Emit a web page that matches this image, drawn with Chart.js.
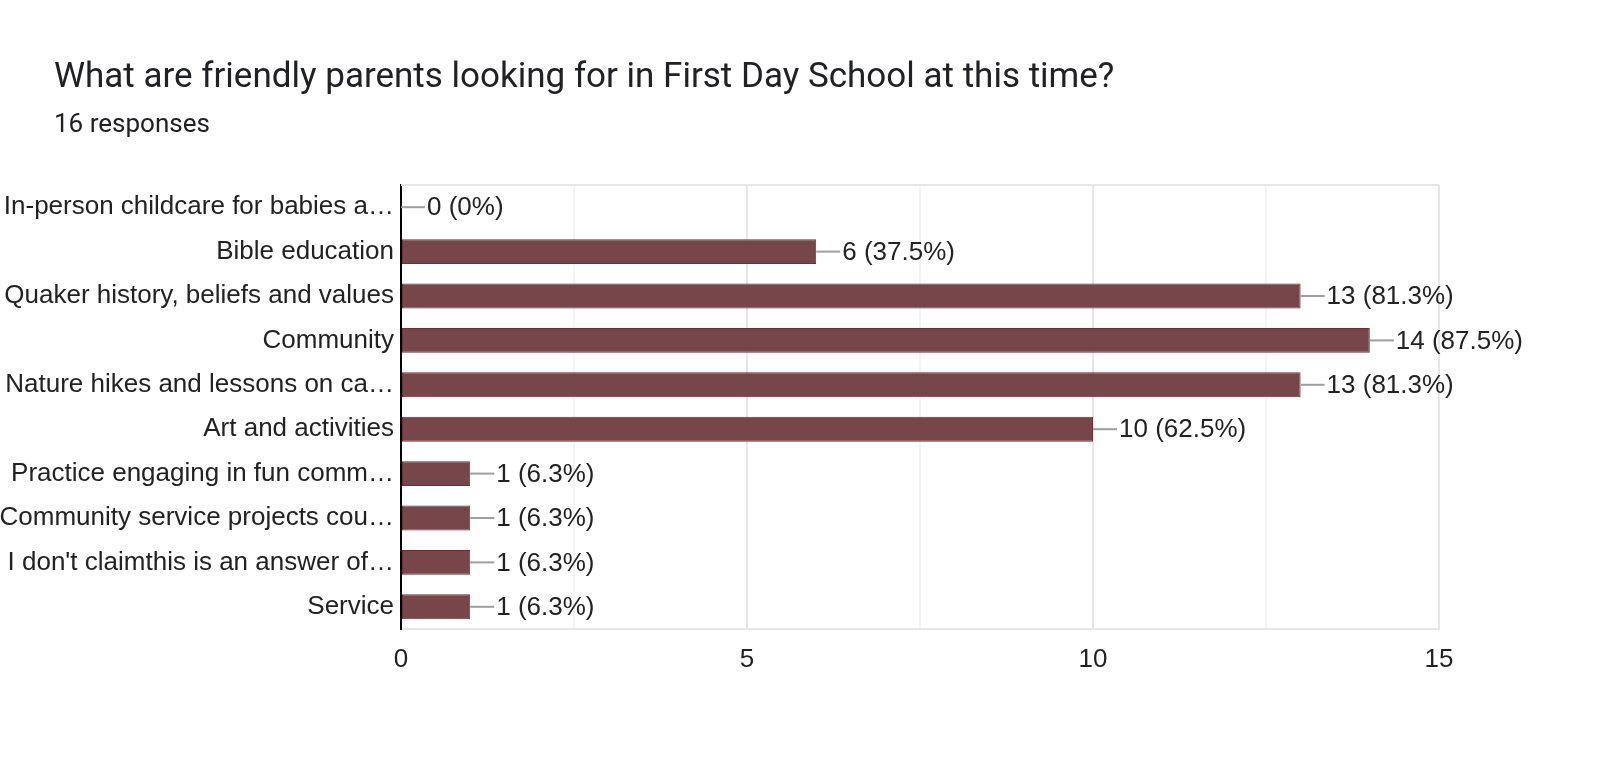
<!DOCTYPE html>
<html>
<head>
<meta charset="utf-8">
<script src="https://cdn.jsdelivr.net/npm/chart.js@4.4.1/dist/chart.umd.min.js"></script>
<style>
  body { margin: 0; background: #fff; }
  #wrap { position: relative; width: 1600px; height: 761px; }
  #title { position: absolute; left: 54px; top: 56px; font: 35px Roboto, "Open Sans", sans-serif; line-height: 40px; color: #202124; white-space: nowrap; }
  #subtitle { position: absolute; left: 54px; top: 108px; font: 26px Roboto, "Open Sans", sans-serif; line-height: 30px; color: #202124; white-space: nowrap; }
  canvas { position: absolute; left: 0; top: 0; }
</style>
</head>
<body>
<div id="wrap">
  <canvas id="surveyChart" width="1600" height="761"></canvas>
  <div id="title">What are friendly parents looking for in First Day School at this time?</div>
  <div id="subtitle">16 responses</div>
</div>
<script>
const categories = [
    'In-person childcare for babies a\u2026',
    'Bible education',
    'Quaker history, beliefs and values',
    'Community',
    'Nature hikes and lessons on ca\u2026',
    'Art and activities',
    'Practice engaging in fun comm\u2026',
    'Community service projects cou\u2026',
    "I don't claimthis is an answer of\u2026",
    'Service'
];
const counts = [0, 6, 13, 14, 13, 10, 1, 1, 1, 1];
const totalResponses = 16;
const xTickLabels = [0, 5, 10, 15];

const labelFont = { family: '"Liberation Sans", Arial, sans-serif', size: 26 };

// leader line + "n (pct%)" next to each bar
const valueLabels = {
    id: 'valueLabels',
    afterDatasetsDraw(chart) {
        const ctx = chart.ctx;
        const meta = chart.getDatasetMeta(0);
        ctx.save();
        ctx.font = '26px "Liberation Sans", Arial, sans-serif';
        ctx.textBaseline = 'middle';
        meta.data.forEach((bar, i) => {
            const pct = (counts[i] / totalResponses * 100).toFixed(1).replace(/\.0$/, '');
            ctx.strokeStyle = '#9e9e9e';
            ctx.lineWidth = 2;
            ctx.beginPath();
            ctx.moveTo(bar.x, bar.y);
            ctx.lineTo(bar.x + 24, bar.y);
            ctx.stroke();
            ctx.fillStyle = '#222';
            ctx.fillText(`${counts[i]} (${pct}%)`, bar.x + 26, bar.y + 1);
        });
        ctx.restore();
    }
};

// light frame line across the top of the plot
const topFrame = {
    id: 'topFrame',
    beforeDatasetsDraw(chart) {
        const { ctx, chartArea } = chart;
        ctx.save();
        ctx.strokeStyle = '#e6e6e6';
        ctx.lineWidth = 2;
        ctx.beginPath();
        ctx.moveTo(chartArea.left, chartArea.top);
        ctx.lineTo(chartArea.right, chartArea.top);
        ctx.stroke();
        ctx.restore();
    }
};

const ctx = document.getElementById('surveyChart').getContext('2d');
new Chart(ctx, {
    type: 'bar',
    data: {
        labels: categories,
        datasets: [{
            data: counts,
            backgroundColor: '#77464a',
            borderColor: '#6a3036',
            borderWidth: 1,
            borderSkipped: false,
            barPercentage: 0.56,
            categoryPercentage: 1
        }]
    },
    options: {
        indexAxis: 'y',
        responsive: false,
        animation: false,
        devicePixelRatio: 1,
        layout: { padding: { top: 185, right: 161, bottom: 72, left: 0 } },
        plugins: {
            legend: { display: false },
            tooltip: { enabled: false }
        },
        scales: {
            x: {
                min: 0,
                max: 15,
                afterFit(scale) { scale.height = 60; },
                afterBuildTicks(scale) {
                    scale.ticks = [0, 2.5, 5, 7.5, 10, 12.5, 15].map(v => ({ value: v }));
                },
                ticks: {
                    padding: 15,
                    color: '#222',
                    font: labelFont,
                    maxRotation: 0,
                    autoSkip: false,
                    callback: v => xTickLabels.includes(v) ? String(v) : ''
                },
                grid: {
                    drawTicks: false,
                    lineWidth: 2,
                    color: c => (c.tick && c.tick.value % 5 === 0) ? '#e6e6e6' : '#f4f4f4'
                },
                border: { display: true, color: '#e6e6e6', width: 2 }
            },
            y: {
                afterFit(scale) { scale.width = 401; },
                ticks: { padding: 7, color: '#222', font: labelFont, autoSkip: false },
                grid: { display: false, drawTicks: false },
                border: { display: true, color: '#000', width: 2 }
            }
        }
    },
    plugins: [topFrame, valueLabels]
});
</script>
</body>
</html>
